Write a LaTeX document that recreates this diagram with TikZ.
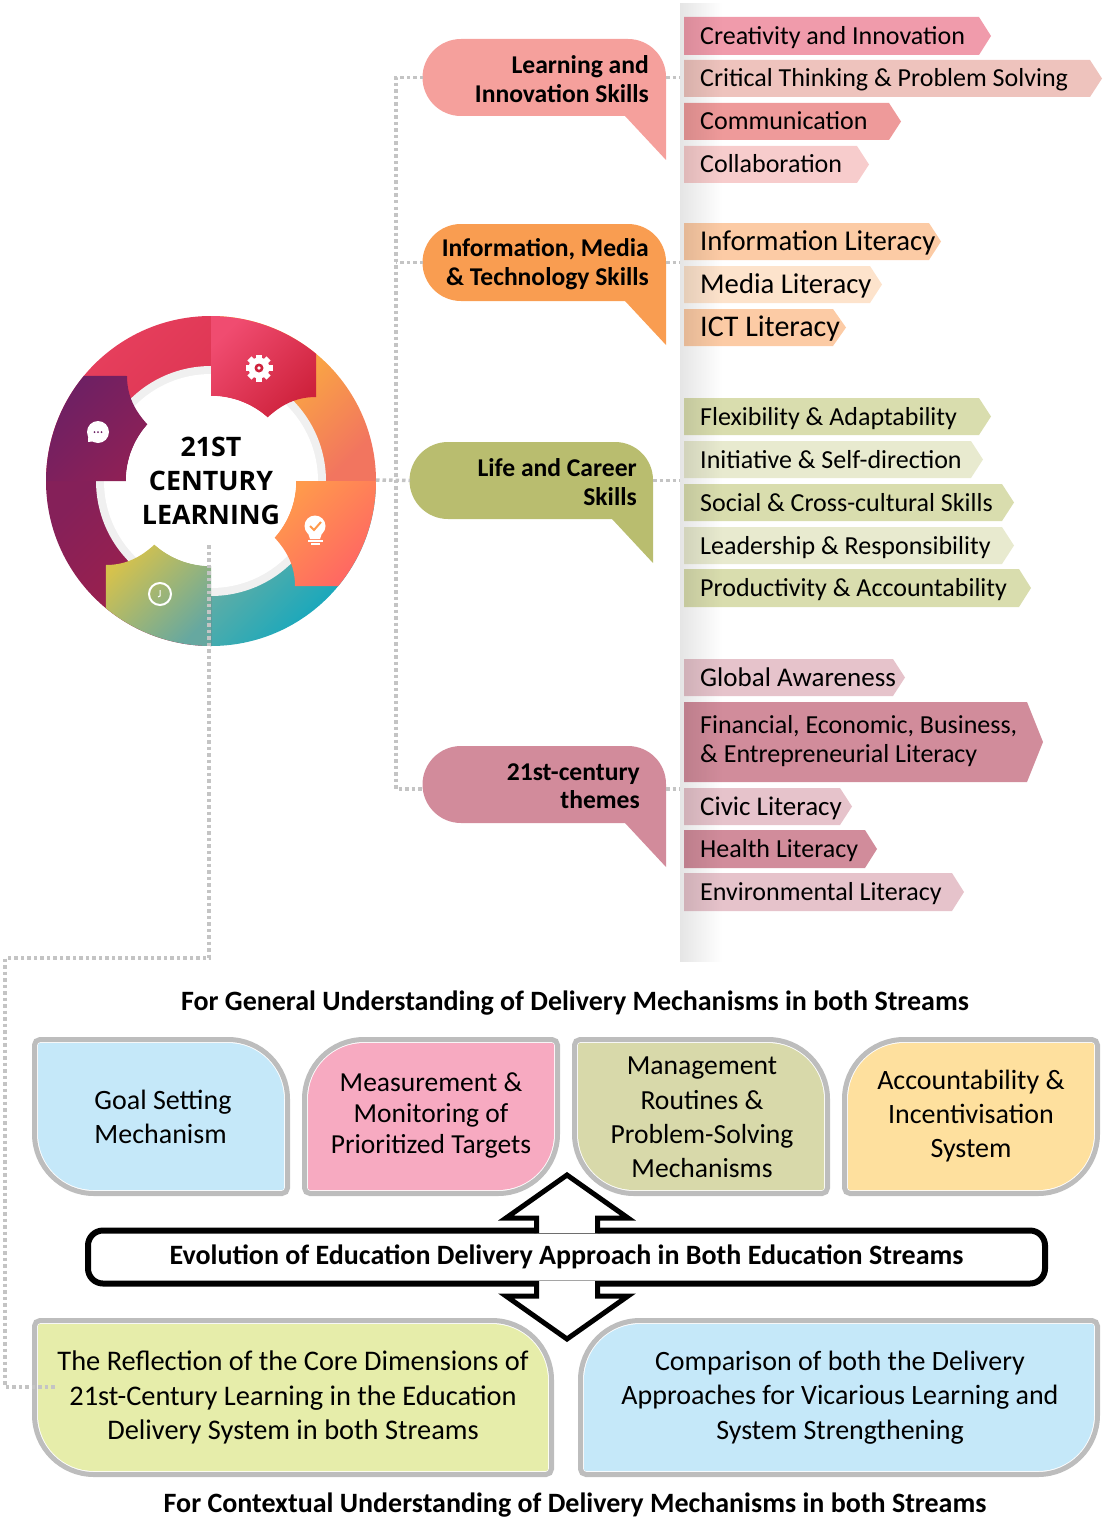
\documentclass[tikz,border=0pt]{standalone}
\usepackage{fontspec}
\setmainfont{Carlito}
\newfontfamily\wheelfont{Open Sans}
\usetikzlibrary{fadings}
\definecolor{learnrose}{HTML}{F5A09C}
\definecolor{infoorange}{HTML}{F99D51}
\definecolor{lifeolive}{HTML}{B9BD6F}
\definecolor{thememauve}{HTML}{D28B9B}
\definecolor{dotgrey}{HTML}{C4C4C4}
\definecolor{rimgrey}{HTML}{BDBDBD}
\definecolor{skyblue}{HTML}{C5E8F9}
\definecolor{candypink}{HTML}{F7AAC1}
\definecolor{mossgreen}{HTML}{D8D9AA}
\definecolor{butter}{HTML}{FEE09E}
\definecolor{limewash}{HTML}{E6EDAA}
\definecolor{rimredA}{HTML}{E8415F}
\definecolor{rimredB}{HTML}{DB3350}
\definecolor{rimorangeA}{HTML}{FFC830}
\definecolor{rimorangeB}{HTML}{F2755F}
\definecolor{rimtealA}{HTML}{85B09A}
\definecolor{rimtealB}{HTML}{00A6C4}
\definecolor{rimplumA}{HTML}{852059}
\definecolor{rimplumB}{HTML}{A82046}
\definecolor{tabredA}{HTML}{F04C70}
\definecolor{tabredB}{HTML}{CE223C}
\definecolor{taborangeA}{HTML}{FF9A4C}
\definecolor{taborangeB}{HTML}{FF6464}
\definecolor{tabolivA}{HTML}{D6C24C}
\definecolor{tabolivB}{HTML}{66A8A0}
\definecolor{tabplumA}{HTML}{6C2064}
\definecolor{tabplumB}{HTML}{8E2056}
\definecolor{barpink}{HTML}{F09BAB}
\definecolor{barblush}{HTML}{EEC3BD}
\definecolor{barcoral}{HTML}{EE9A9A}
\definecolor{barshell}{HTML}{F7CCCC}
\definecolor{barpeach}{HTML}{FCCBA5}
\definecolor{barcream}{HTML}{FDE3CC}
\definecolor{barolive}{HTML}{D9DDAE}
\definecolor{barpale}{HTML}{E8EACF}
\definecolor{barmauve}{HTML}{D18C9B}
\definecolor{barrosy}{HTML}{E6C3CB}
\tikzfading[name=stripfade, left color=transparent!0, right color=transparent!100]
\tikzset{linkdots/.style = {dotgrey, line width=3.5pt, dash pattern=on 3.5pt off 3pt},
         diagfill/.style 2 args = {top color=#1, bottom color=#2, shading angle=45},
         skilltext/.style = {inner sep=0pt, font=\fontsize{26}{30}\selectfont},
         bubbletext/.style = {inner sep=0pt, align=right, font=\bfseries\fontsize{25.6}{28.5}\selectfont},
         paneltext/.style = {inner sep=0pt, align=center, font=\fontsize{28}{34.4}\selectfont},
         headtext/.style = {inner sep=0pt, font=\bfseries\fontsize{28}{32}\selectfont},
         softshape/.style n args = {6}{insert path={
           ({#1+(#5)},#2) -- ({#3-(#6)},#2) arc[start angle=-90, end angle=0, radius={(#6)*1pt}]
           -- (#3,{#4-(#5)}) arc[start angle=0, end angle=90, radius={(#5)*1pt}]
           -- ({#1+(#6)},#4) arc[start angle=90, end angle=180, radius={(#6)*1pt}]
           -- (#1,{#2+(#5)}) arc[start angle=180, end angle=270, radius={(#5)*1pt}] -- cycle}}}

\newcommand{\skillbar}[7]{
  \fill [#6] (684,#2) -- (#4,#2) -- (#5,{(#2+#3)/2}) -- (#4,#3) -- (684,#3) -- cycle;
  \node (#1) [skilltext, anchor=base west] at (700,{(#2+#3)/2+8.5}) {#7};
}
\newcommand{\bubble}[6]{
  \fill [#4] ({#2+38},#3) -- ({#2+205},#3) arc[start angle=-90, end angle=0, radius=38pt]
    -- ({#2+243},{#3+121}) -- ({#2+202},{#3+77}) -- ({#2+38},{#3+77})
    arc[start angle=90, end angle=270, radius=38.5pt] -- cycle;
  \coordinate (#1in) at (#2,{#3+38.5});
  \coordinate (#1out) at ({#2+243},{#3+38.5});
  \node (#1) [bubbletext, anchor=east] at ({#2+243-#5},{#3+40}) {#6};
}
\newcommand{\softbox}[7]{
  \draw [rimgrey, line width=5pt, softshape={#1+2.5}{#2+2.5}{#3-2.5}{#4-2.5}{#5-2.5}{#6-2.5}];
  \fill [#7, softshape={#1+6}{#2+6}{#3-6}{#4-6}{#5-6}{#6-6}];
}

\begin{document}
\begin{tikzpicture}[x=1pt, y=1pt, yscale=-1]
  \useasboundingbox (0,0) rectangle (1108,1517);

  \coordinate (hub) at (211,481);
  \shade [diagfill={rimredA}{rimredB}] (hub) -- ++(180:165) arc[start angle=180, end angle=270, radius=165pt] -- cycle;
  \shade [diagfill={rimorangeA}{rimorangeB}] (hub) -- ++(-90:165) arc[start angle=-90, end angle=0, radius=165pt] -- cycle;
  \shade [diagfill={rimtealA}{rimtealB}] (hub) -- ++(0:165) arc[start angle=0, end angle=90, radius=165pt] -- cycle;
  \shade [diagfill={rimplumA}{rimplumB}] (hub) -- ++(90:165) arc[start angle=90, end angle=180, radius=165pt] -- cycle;
  \fill [black!6] (hub) circle (115pt);
  \fill [white] (hub) circle (107pt);

  \foreach \turn/\cola/\colb in {0/tabredA/tabredB, 90/taborangeA/taborangeB,
                                 180/tabolivA/tabolivB, 270/tabplumA/tabplumB} {
    \begin{scope}[shift={(hub)}, rotate=\turn]
      \shade [diagfill={\cola}{\colb}] (0,-85) -- (0,-165) arc[start angle=-90, end angle=-50.4, radius=165pt]
        -- (105,-84) .. controls (85,-84) and (70,-76) .. (56.5,-63.5)
        arc[start angle=-48.3, end angle=-90, radius=85pt] -- cycle;
    \end{scope}
  }
  \fill [white] (hub) circle (85pt);

  \foreach \a in {0,45,...,135} {
    \fill [white, rotate around={\a:(259,368)}] (256,354.5) rectangle (262,381.5);
  }
  \fill [white] (259,368) circle (10.5pt);
  \fill [tabredB] (259,368) circle (4.5pt);
  \fill [white] (259,368) circle (1.8pt);

  \fill [white] (315,526) circle (10.5pt);
  \fill [white] (308,533) -- (322,533) -- (320,539) -- (310,539) -- cycle;
  \fill [white] (308,540) rectangle (323,542);
  \fill [white] (311,543) rectangle (320,545);
  \draw [taborangeA, line width=2pt] (310,526) -- (314,530) -- (321,522);

  \draw [white, line width=2pt] (160,594) circle (11pt);
  \draw [white, line width=1pt] (160,590) -- (160,596) -- (158,597);

  \fill [white] (98,432) circle (11pt);
  \fill [white] (88,437) -- (88,442) -- (96,441) -- cycle;
  \foreach \dx in {-3.5,0,3.5} {
    \fill [tabplumA] ({98+\dx},432) circle (1pt);
  }

  \node (centre) [inner sep=0pt, align=center, font=\wheelfont\bfseries\fontsize{26.8}{34}\selectfont] at (211,481) {21ST\\CENTURY\\LEARNING};

  \bubble{learning}{423}{39}{learnrose}{17}{Learning and\\Innovation Skills}
  \bubble{media}{423}{224}{infoorange}{17}{Information, Media\\\& Technology Skills}
  \bubble{career}{410}{442}{lifeolive}{16}{Life and Career\\Skills}
  \bubble{themes}{423}{746}{thememauve}{26}{21st-century\\themes}

  \skillbar{creativity}{17}{55}{979}{991}{barpink}{Creativity and Innovation}
  \skillbar{critical}{60}{97}{1090}{1102}{barblush}{Critical Thinking \& Problem Solving}
  \skillbar{communication}{103}{140}{889}{901}{barcoral}{Communication}
  \skillbar{collaboration}{146}{183}{857}{869}{barshell}{Collaboration}

  \skillbar{infolit}{223}{260}{929}{941}{barpeach}{\fontsize{28.7}{30}\selectfont Information Literacy}
  \skillbar{medialit}{266}{303}{870}{882}{barcream}{\fontsize{28.7}{30}\selectfont Media Literacy}
  \skillbar{ictlit}{309}{346}{833}{846}{barpeach}{\fontsize{30}{30}\selectfont ICT Literacy}

  \skillbar{flexibility}{398}{435}{979}{991}{barolive}{Flexibility \& Adaptability}
  \skillbar{initiative}{441}{478}{971}{983}{barpale}{Initiative \& Self-direction}
  \skillbar{social}{484}{521}{1002}{1014}{barolive}{Social \& Cross-cultural Skills}
  \skillbar{leadership}{527}{564}{1002}{1014}{barpale}{Leadership \& Responsibility}
  \skillbar{productivity}{569}{607}{1019}{1031}{barolive}{Productivity \& Accountability}

  \skillbar{global}{659}{696}{893}{905}{barrosy}{\fontsize{27}{30}\selectfont Global Awareness}
  \skillbar{financial}{702}{782}{1027}{1043}{barmauve}{}
  \node (finance) [skilltext, anchor=west, align=left, font=\fontsize{26}{29.5}\selectfont] at (700,741) {Financial, Economic, Business,\\\& Entrepreneurial Literacy};
  \skillbar{civic}{788}{825}{840}{852}{barrosy}{\fontsize{27}{30}\selectfont Civic Literacy}
  \skillbar{health}{830}{868}{865}{877}{barmauve}{Health Literacy}
  \skillbar{environment}{873}{911}{952}{964}{barrosy}{Environmental Literacy}

  \fill [black, opacity=0.1, path fading=stripfade] (680,3) rectangle (722,962);

  \coordinate (stripe) at (680,0);
  \coordinate (trunk) at (396,0);
  \coordinate (themesfoot) at (themesin |- 0,789);
  \draw [linkdots] (learningin) -- (learningin -| trunk) -- (themesfoot -| trunk) -- (themesfoot);
  \draw [linkdots] (mediain) -- (mediain -| trunk);
  \draw [linkdots] (376,480) -- (careerin);
  \draw [linkdots] (learningout) -- (learningout -| stripe);
  \draw [linkdots] (mediaout) -- (mediaout -| stripe);
  \draw [linkdots] (careerout) -- (careerout -| stripe);
  \draw [linkdots] (themesout |- themesfoot) -- (stripe |- themesfoot);

  \node (generalhead) [headtext] at (575,1003) {For General Understanding of Delivery Mechanisms in both Streams};

  \softbox{32}{1037}{290}{1196}{8}{62}{skyblue}
  \softbox{302}{1037}{560}{1196}{62}{8}{candypink}
  \softbox{572}{1037}{830}{1196}{8}{62}{mossgreen}
  \softbox{842}{1037}{1100}{1196}{62}{8}{butter}
  \softbox{32}{1318}{554}{1477}{8}{62}{limewash}
  \softbox{578}{1318}{1100}{1477}{62}{8}{skyblue}

  \node (goal) [paneltext, align=left] at (163,1117) {Goal Setting\\Mechanism};
  \node (measure) [paneltext, font=\fontsize{27.5}{31}\selectfont] at (431,1115) {Measurement \&\\Monitoring of\\Prioritized Targets};
  \node (routines) [paneltext, font=\fontsize{27.6}{34.4}\selectfont] at (702,1117.5) {Management\\Routines \&\\Problem-Solving\\Mechanisms};
  \node (incentive) [paneltext] at (971,1116) {Accountability \&\\Incentivisation\\System};
  \node (reflection) [paneltext, font=\fontsize{28.4}{34.4}\selectfont] at (293,1397.5) {The Reflection of the Core Dimensions of\\21st-Century Learning in the Education\\Delivery System in both Streams};
  \node (comparison) [paneltext] at (840,1397.5) {Comparison of both the Delivery\\Approaches for Vicarious Learning and\\System Strengthening};

  \node (evolution) [draw, line width=6pt, rounded corners=15pt, minimum width=957pt, minimum height=53pt,
                     headtext] at (566.5,1257) {Evolution of Education Delivery Approach in Both Education Streams};

  \filldraw [fill=white, line width=5pt, miter limit=10] (536.5,1233) -- (536.5,1218) -- (506,1218) -- (567,1175)
    -- (628,1218) -- (597.5,1218) -- (597.5,1233);
  \filldraw [fill=white, line width=5pt, miter limit=10] (536.5,1281) -- (536.5,1296) -- (506,1296) -- (567,1339)
    -- (628,1296) -- (597.5,1296) -- (597.5,1281);

  \coordinate (hubfoot) at (209,545);
  \coordinate (dropknee) at (209,958);
  \coordinate (dropcorner) at (5,958);
  \coordinate (dropfoot) at (5,1387);
  \coordinate (reflectport) at (55,1387);
  \draw [linkdots] (hubfoot) -- (dropknee) -- (dropcorner) -- (dropfoot) -- (reflectport);

  \node (contexthead) [headtext] at (575,1505) {For Contextual Understanding of Delivery Mechanisms in both Streams};
\end{tikzpicture}
\end{document}
